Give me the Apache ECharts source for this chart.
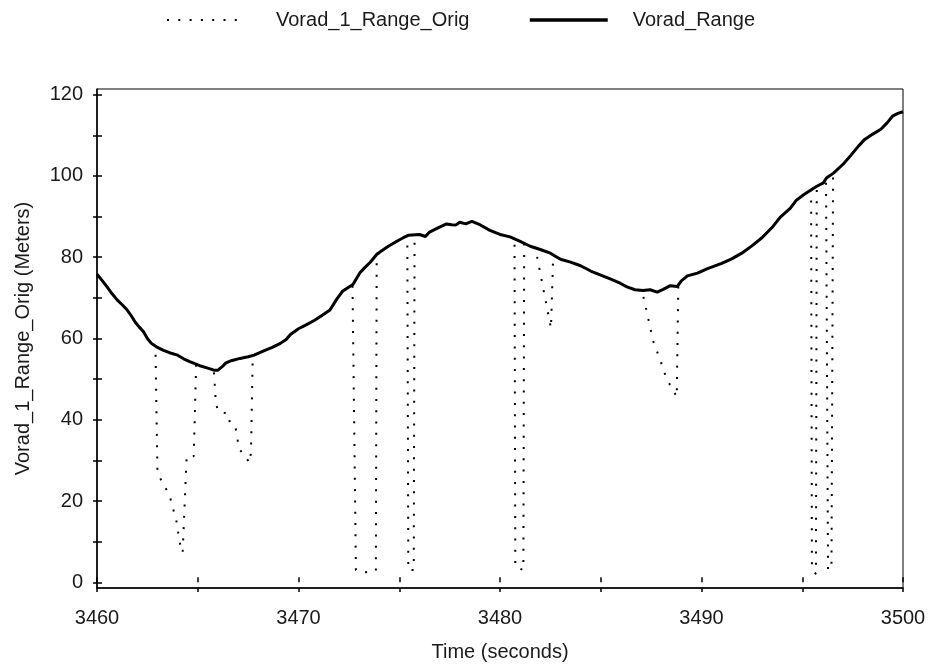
<!DOCTYPE html>
<html>
<head>
<meta charset="utf-8">
<script src="https://cdn.jsdelivr.net/npm/echarts@6/dist/echarts.min.js"></script>
<style>
html,body{margin:0;padding:0;background:#fff;}
#chart{width:930px;height:672px;}
</style>
</head>
<body>
<div id="chart"></div>
<script>
// Vorad_Range (solid line): time (s) and range (m)
const rangeT = [3460.0,3460.25,3460.5,3460.75,3461.0,3461.25,3461.5,3461.7,3461.9,3462.1,3462.3,3462.5,3462.7,3463.0,3463.3,3463.6,3464.0,3464.3,3464.6,3465.1,3465.5,3465.8,3466.0,3466.2,3466.4,3466.7,3467.1,3467.5,3467.8,3468.3,3468.7,3469.1,3469.4,3469.6,3470.0,3470.4,3470.8,3471.2,3471.56,3471.9,3472.2,3472.7,3473.05,3473.3,3473.55,3473.9,3474.4,3474.9,3475.2,3475.45,3476.0,3476.3,3476.5,3477.0,3477.35,3477.6,3477.8,3478.0,3478.3,3478.6,3479.0,3479.5,3480.0,3480.5,3481.0,3481.5,3482.0,3482.5,3483.0,3483.5,3484.0,3484.5,3485.0,3485.5,3485.96,3486.3,3486.7,3487.1,3487.45,3487.8,3488.1,3488.45,3488.8,3489.0,3489.3,3489.8,3490.3,3491.0,3491.5,3492.0,3492.5,3493.0,3493.5,3493.9,3494.4,3494.7,3495.05,3495.45,3495.7,3496.05,3496.2,3496.55,3497.05,3497.4,3497.8,3498.1,3498.5,3498.9,3499.2,3499.5,3499.75,3500.0];
const rangeV = [75.8,74.3,72.7,71.0,69.5,68.3,67.0,65.6,64.0,62.8,61.7,60.0,58.8,57.8,57.1,56.5,55.9,55.0,54.3,53.3,52.7,52.2,52.2,53.0,54.0,54.6,55.1,55.5,55.9,57.0,57.8,58.8,59.8,61.0,62.4,63.4,64.5,65.8,67.0,69.7,71.7,73.3,76.2,77.5,78.7,80.8,82.5,84.0,84.8,85.4,85.6,85.1,86.2,87.4,88.2,88.0,87.9,88.6,88.2,88.8,88.0,86.6,85.6,85.0,83.9,82.7,81.9,81.0,79.5,78.8,77.9,76.6,75.6,74.6,73.6,72.7,72.0,71.8,72.0,71.4,72.1,73.0,72.8,74.2,75.4,76.1,77.2,78.5,79.6,81.0,82.8,84.8,87.3,89.8,92.0,94.0,95.3,96.6,97.4,98.3,99.5,100.7,103.0,105.0,107.4,109.0,110.3,111.5,113.0,114.8,115.4,115.8];

// Vorad_1_Range_Orig: samples where the original signal drops away from Vorad_Range
const dropTimes = [
  [3462.9,3463.0,3463.2,3463.6,3463.95,3464.1,3464.25,3464.45,3464.8,3464.92],
  [3465.85,3465.9,3466.02,3466.52,3466.6,3466.88,3466.98,3467.06,3467.34,3467.56,3467.64,3467.73],
  [3472.68,3472.85,3473.35,3473.84,3473.88],
  [3475.4,3475.45,3475.72,3475.76],
  [3480.72,3480.76,3481.16,3481.2],
  [3481.76,3482.53,3482.64],
  [3487.05,3487.6,3487.98,3488.27,3488.55,3488.77,3488.85],
  [3495.44,3495.48,3495.68,3495.72],
  [3496.18,3496.28,3496.45,3496.53]
];
const dropValues = [
  [58.1,27,25,21.4,14.9,9.9,7.3,31,31,53.5],
  [52.2,44,42,41.5,39,38,35,32.7,31.3,29.4,31.8,55.8],
  [73.2,3,2.5,2.8,80.5],
  [85.3,3,3,85.3],
  [84.5,3.8,3,83.3],
  [82.2,62.5,80.5],
  [71.8,59.4,54.3,50,47.7,45.6,73.0],
  [96.6,3.5,2,97.4],
  [99.4,3.2,3.2,100.6]
];

const xTickValues = [3460,3465,3470,3475,3480,3485,3490,3495,3500];
const xLabelValues = [3460,3470,3480,3490,3500];
const yTickValues = [0,10,20,30,40,50,60,70,80,90,100,110,120];
const yLabelValues = [0,20,40,60,80,100,120];

const rangeData = rangeT.map((t,i)=>[t, rangeV[i]]);
const origData = [];
rangeT.forEach((t,i)=>{
  if(!dropTimes.some(g => t >= g[0] && t <= g[g.length-1])) origData.push([t, rangeV[i]]);
});
dropTimes.forEach((g,k)=> g.forEach((t,j)=> origData.push([t, dropValues[k][j]])));
origData.sort((a,b)=>a[0]-b[0]);

const FONT = "'Liberation Sans', Arial, sans-serif";
const TXT = '#1a1a1a';
const plain = v => String(Math.round(v));

const chart = echarts.init(document.getElementById('chart'), null, {renderer:'canvas'});
chart.setOption({
  animation: false,
  backgroundColor: '#fff',
  textStyle: {fontFamily: FONT},
  legend: [
    {data:['Vorad_1_Range_Orig'], left:161, top:5, itemWidth:73, itemHeight:14, selectedMode:false,
     itemStyle:{opacity:0},
     lineStyle:{width:2, color:'#000', type:[2, 9.3]},
     textStyle:{fontSize:20, color:TXT, fontFamily:FONT, padding:[0,0,0,31]}},
    {data:['Vorad_Range'], left:523, top:5, itemWidth:78, itemHeight:14, selectedMode:false,
     itemStyle:{opacity:0},
     lineStyle:{width:3.5, color:'#000', type:'solid'},
     textStyle:{fontSize:20, color:TXT, fontFamily:FONT, padding:[0,0,0,20]}}
  ],
  grid: {left:97, top:89, width:806, height:499, show:true, borderColor:'#000', borderWidth:1, backgroundColor:'transparent', containLabel:false},
  xAxis: [
    {type:'value', min:3460, max:3500, position:'bottom',
     axisLine:{show:true, onZero:false, lineStyle:{color:'#000', width:1.5}},
     axisTick:{show:true, inside:false, length:4, customValues:xTickValues, lineStyle:{color:'#000', width:1.5}},
     axisLabel:{customValues:xLabelValues, formatter:plain, fontSize:20, color:TXT, fontFamily:FONT, margin:20},
     splitLine:{show:false},
     name:'Time (seconds)', nameLocation:'middle', nameGap:54,
     nameTextStyle:{fontSize:20, color:TXT, fontFamily:FONT}},
    {type:'value', min:3460, max:3500, position:'bottom', offset:0,
     axisLine:{show:false}, axisTick:{show:true, inside:true, length:5, customValues:xTickValues, lineStyle:{color:'#000', width:1.5}},
     axisLabel:{show:false}, splitLine:{show:false}}
  ],
  yAxis: [
    {type:'value', min:-1.4, max:121.4, position:'left',
     axisLine:{show:true, onZero:false, lineStyle:{color:'#000', width:1.5}},
     axisTick:{show:true, inside:false, length:4, customValues:yTickValues, lineStyle:{color:'#000', width:1.5}},
     axisLabel:{customValues:yLabelValues, formatter:plain, fontSize:20, color:TXT, fontFamily:FONT, margin:14},
     splitLine:{show:false},
     name:'Vorad_1_Range_Orig (Meters)', nameLocation:'middle', nameGap:64, nameRotate:90,
     nameTextStyle:{fontSize:20, color:TXT, fontFamily:FONT}},
    {type:'value', min:-1.4, max:121.4, position:'left', offset:0,
     axisLine:{show:false}, axisTick:{show:true, inside:true, length:5, customValues:yTickValues, lineStyle:{color:'#000', width:1.5}},
     axisLabel:{show:false}, splitLine:{show:false}}
  ],
  series: [
    {name:'Vorad_1_Range_Orig', type:'line', data:origData, xAxisIndex:0, yAxisIndex:0,
     symbol:'none', showSymbol:false, z:2,
     lineStyle:{color:'#000', width:2, type:[2, 9.3], cap:'butt'},
     itemStyle:{color:'#000'}},
    {name:'Vorad_Range', type:'line', data:rangeData, xAxisIndex:0, yAxisIndex:0,
     symbol:'none', showSymbol:false, z:3,
     lineStyle:{color:'#000', width:3},
     itemStyle:{color:'#000'}}
  ]
});
</script>
</body>
</html>
